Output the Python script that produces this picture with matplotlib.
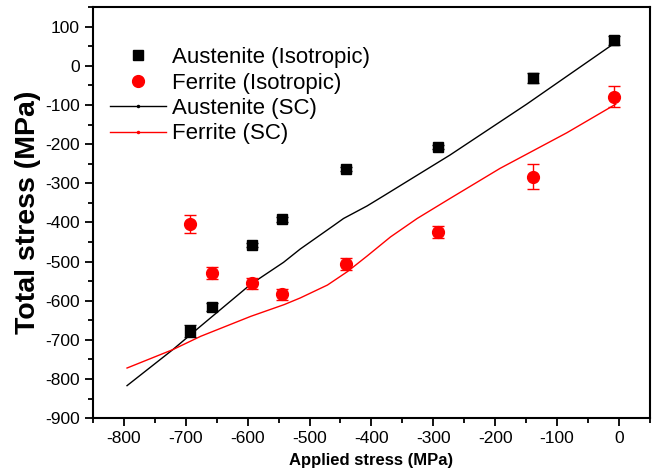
import numpy as np
import matplotlib
matplotlib.use("Agg")
import matplotlib.pyplot as plt
from matplotlib.lines import Line2D
from matplotlib.ticker import MultipleLocator

plt.rcParams['font.family'] = ['Liberation Sans', 'DejaVu Sans']
plt.rcParams['axes.unicode_minus'] = False

# measured points (isotropic model)
applied = [-693, -657, -593, -545, -441, -293, -138, -8]
aus_iso = [-677, -617, -457, -392, -263, -207, -31, 65]
aus_err = [16, 10, 5, 6, 5, 5, 12, 12]
fer_iso = [-404, -530, -555, -583, -506, -425, -283, -79]
fer_err = [22, 15, 14, 14, 15, 16, 31, 27]

# self-consistent model curves
aus_sc_x = [-795, -721, -676, -595, -542, -515, -461, -445, -407, -380, -343, -273, -149, -5]
aus_sc_y = [-817, -725, -665, -558, -502, -468, -408, -390, -358, -332, -296, -228, -98, 60]
fer_sc_x = [-795, -721, -676, -595, -541, -515, -471, -439, -407, -369, -326, -273, -192, -84, -5]
fer_sc_y = [-772, -725, -691, -640, -610, -593, -560, -526, -486, -437, -390, -339, -262, -171, -98]

fig = plt.figure(figsize=(6.55, 4.73), dpi=100)
ax = fig.add_axes([0.142, 0.116, 0.850, 0.869])

ax.plot(aus_sc_x, aus_sc_y, color='black', lw=1.0)
ax.plot(fer_sc_x, fer_sc_y, color='red', lw=1.0)

ax.errorbar(applied, aus_iso, yerr=aus_err, fmt='none', ecolor='black', elinewidth=1, capsize=4)
ax.errorbar(applied, fer_iso, yerr=fer_err, fmt='none', ecolor='red', elinewidth=1, capsize=4)
ax.plot(applied, aus_iso, 's', color='black', ms=7)
ax.plot(applied, fer_iso, 'o', color='red', ms=8.5)

ax.set_xlim(-850, 50)
ax.set_ylim(-900, 150)
ax.xaxis.set_major_locator(MultipleLocator(100))
ax.xaxis.set_minor_locator(MultipleLocator(50))
ax.yaxis.set_major_locator(MultipleLocator(100))
ax.yaxis.set_minor_locator(MultipleLocator(50))
ax.tick_params(which='both', direction='out', width=1.3, labelsize=12.5)
ax.tick_params(which='major', length=6)
ax.tick_params(which='minor', length=3.5)
for s in ax.spines.values():
    s.set_linewidth(1.5)

ax.set_xlabel('Applied stress (MPa)', fontsize=12, fontweight='bold', labelpad=5)
ax.set_ylabel('Total stress (MPa)', fontsize=20.5, fontweight='bold', labelpad=3)

handles = [
    Line2D([], [], marker='s', color='black', ls='none', ms=7),
    Line2D([], [], marker='o', color='red', ls='none', ms=8.5),
    Line2D([], [], color='black', lw=1, marker='o', ms=1.5),
    Line2D([], [], color='red', lw=1, marker='o', ms=1.5),
]
labels = ['Austenite (Isotropic)', 'Ferrite (Isotropic)', 'Austenite (SC)', 'Ferrite (SC)']
ax.legend(handles, labels, loc='upper left', bbox_to_anchor=(0.007, 0.935), frameon=False,
          fontsize=16, handlelength=2.5, handletextpad=0.27, labelspacing=0.2,
          borderaxespad=0.2)

fig.savefig('out.png', dpi=100)
